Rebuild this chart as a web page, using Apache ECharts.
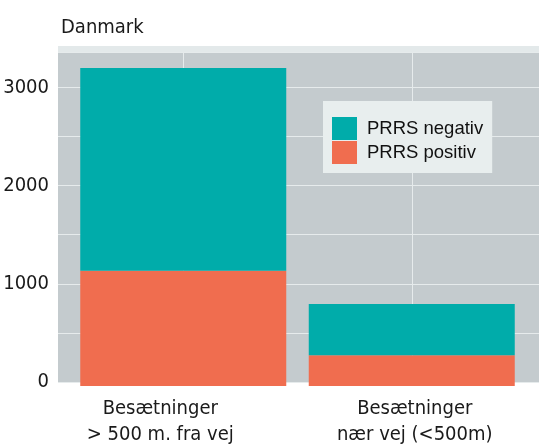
<!DOCTYPE html>
<html>
<head>
<meta charset="utf-8">
<script src="https://cdn.jsdelivr.net/npm/echarts@6/dist/echarts.min.js"></script>
<style>
  html, body { margin: 0; padding: 0; background: #fff; }
  #chart { width: 539px; height: 448px; }
</style>
</head>
<body>
<div id="chart"></div>
<script>
// data
const categories = ["Besætninger\n> 500 m. fra vej", "Besætninger\nnær vej (<500m)"];
const positiv = [1160, 310];
const negativ = [2040, 515];
const yTicks = [0, 1000, 2000, 3000];
const seriesNames = ["PRRS negativ", "PRRS positiv"];

const font = '"Liberation Sans Narrow", "DejaVu Sans Condensed", sans-serif';
const chart = echarts.init(document.getElementById("chart"));

const option = {
  animation: false,
  title: {
    text: "Danmark",
    left: 56,
    top: 13,
    textStyle: { fontFamily: font, fontSize: 20, fontWeight: "normal", color: "#1a1a1a" }
  },
  grid: [
    // light strip on top of the plot
    { show: true, left: 58, right: 0, top: 46, height: 6, backgroundColor: "#e3e9ea", borderWidth: 0 },
    // grey plot area with y labels
    { show: true, left: 58, right: 0, top: 52, bottom: 62, backgroundColor: "#c4cbce", borderWidth: 0 },
    // bars
    { left: 69, right: 13, top: 52, bottom: 62 }
  ],
  legend: {
    data: seriesNames,
    orient: "vertical",
    left: 323,
    top: 101,
    backgroundColor: "#e8eeee",
    padding: [16, 9, 9, 9],
    itemGap: 1,
    itemWidth: 25,
    itemHeight: 23,
    icon: "rect",
    textStyle: { fontFamily: '"Liberation Sans", Arial, sans-serif', fontSize: 18.5, color: "#111", padding: [0, 0, 0, 5] }
  },
  xAxis: [
    {
      gridIndex: 1,
      type: "category",
      data: categories.map((c, i) => ({
        value: c,
        textStyle: i === 0 ? { padding: [0, 36, 0, 0] } : { padding: [0, 8, 0, 0] }
      })),
      axisLine: { show: false },
      axisTick: { show: false },
      axisLabel: { fontFamily: font, fontSize: 20, color: "#1a1a1a", margin: 14, lineHeight: 26 },
      splitLine: { show: false }
    },
    {
      gridIndex: 2,
      type: "category",
      data: categories,
      axisLine: { show: false },
      axisTick: { show: false },
      axisLabel: { show: false },
      splitLine: { show: true, alignWithLabel: true, lineStyle: { color: "#e6ebec", width: 1 } }
    }
  ],
  yAxis: [
    {
      gridIndex: 1,
      type: "value",
      min: 0,
      max: 3360,
      interval: 500,
      axisLine: { show: false },
      axisTick: { show: false },
      axisLabel: {
        fontFamily: font,
        fontSize: 20,
        color: "#1a1a1a",
        margin: 9,
        padding: [0, 0, 5, 0],
        formatter: v => (yTicks.indexOf(v) >= 0 ? String(v) : "")
      },
      splitLine: { lineStyle: { color: "#e6ebec", width: 1 } }
    },
    {
      gridIndex: 2,
      type: "value",
      min: 0,
      max: 3360,
      show: false,
      splitLine: { show: false }
    }
  ],
  series: [
    {
      name: "PRRS positiv",
      type: "bar",
      stack: "total",
      xAxisIndex: 1,
      yAxisIndex: 1,
      barWidth: 206,
      itemStyle: { color: "#f06d4f" },
      data: positiv
    },
    {
      name: "PRRS negativ",
      type: "bar",
      stack: "total",
      xAxisIndex: 1,
      yAxisIndex: 1,
      barWidth: 206,
      itemStyle: { color: "#00acaa" },
      data: negativ
    }
  ]
};
chart.setOption(option);
</script>
</body>
</html>
